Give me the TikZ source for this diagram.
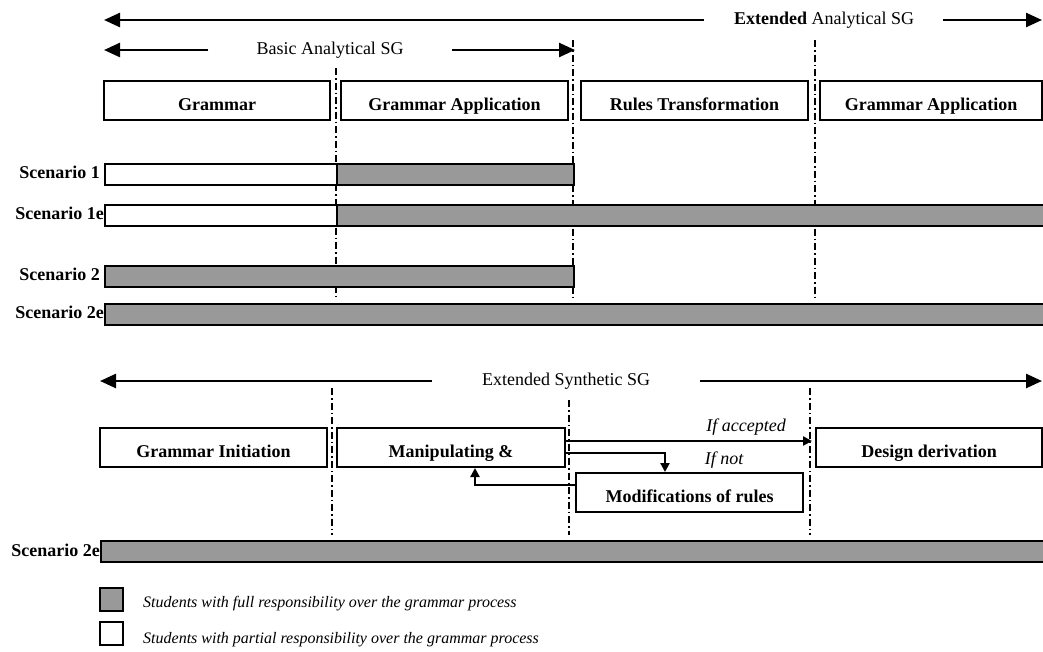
\documentclass[tikz,border=0pt]{standalone}
\usepackage{fontspec}
\setmainfont{Liberation Serif}
\usetikzlibrary{arrows.meta}
\definecolor{barGray}{RGB}{153,153,153}
\begin{document}
\begin{tikzpicture}[x=1pt,y=-1pt,
  lbl/.style={font=\fontsize{18}{20}\selectfont, inner sep=0pt},
  phase/.style={draw, line width=2pt, font=\fontsize{18}{20}\selectfont\bfseries, text height=19pt, text depth=0pt, inner sep=0pt, minimum height=39pt},
  bar/.style={draw, line width=2pt, inner sep=0pt, minimum height=21pt, anchor=north west},
  full/.style={bar, fill=barGray},
  part/.style={bar, fill=white},
  scen/.style={font=\fontsize{18}{20}\selectfont\bfseries, inner sep=0pt, anchor=base east},
  span/.style={line width=2.5pt, -{Triangle[length=16pt,width=14pt]}},
  sep/.style={line width=1.6pt, dash pattern=on 7pt off 3pt on 1.5pt off 3pt},
  flow/.style={line width=2.4pt, -{Triangle[length=9pt,width=9pt]}},
  cond/.style={font=\fontsize{18}{20}\selectfont\itshape, inner sep=0pt},
  legbox/.style={draw, line width=2pt, minimum size=23pt, inner sep=0pt},
  legtxt/.style={font=\fontsize{16}{18}\selectfont\itshape, inner sep=0pt, anchor=west},
]
\useasboundingbox (0,0) rectangle (1043,651);

% ---------- separators (analytical) ----------
\draw[sep] (336,68) -- (336,300);
\draw[sep] (573,40) -- (573,300);
\draw[sep] (815,40) -- (815,300);

% ---------- span arrows (analytical) ----------
\coordinate (eaL) at (104,20);
\coordinate (eaR) at (1042,20);
\node[lbl] (ea) at (824,20) {\textbf{Extended} Analytical SG};
\draw[span] ([xshift=-30pt]ea.west) -- (eaL);
\draw[span] ([xshift=29pt]ea.east) -- (eaR);

\coordinate (baL) at (104,50);
\coordinate (baR) at (575,50);
\node[lbl] (ba) at (330,50) {Basic Analytical SG};
\draw[span] ([xshift=-48pt]ba.west) -- (baL);
\draw[span] ([xshift=48pt]ba.east) -- (baR);

% ---------- phase boxes (analytical) ----------
\node[phase, minimum width=226pt] (gr) at (217,100.5) {Grammar};
\node[phase, minimum width=227pt] (ga1) at (454.5,100.5) {Grammar Application};
\node[phase, minimum width=227pt] (rt) at (694.5,100.5) {Rules Transformation};
\node[phase, minimum width=222pt] (ga2) at (931,100.5) {Grammar Application};

% ---------- scenarios (analytical) ----------
\node[scen] (l1) at (100,178) {Scenario 1};
\node[part, minimum width=232pt] (s1a) at (104,163) {};
\node[full, minimum width=237pt] (s1b) at (336,163) {};

\node[scen] (l1e) at (104,219) {Scenario 1e};
\node[part, minimum width=232pt] (s1ea) at (104,204) {};
\node[full, minimum width=710pt] (s1eb) at (336,204) {};

\node[scen] (l2) at (100,280) {Scenario 2};
\node[full, minimum width=469pt] (s2) at (104,265) {};

\node[scen] (l2e) at (104,318) {Scenario 2e};
\node[full, minimum width=942pt] (s2e) at (104,303) {};

% ---------- separators (synthetic) ----------
\draw[sep] (332,388) -- (332,535);
\draw[sep] (569,400) -- (569,535);
\draw[sep] (810,388) -- (810,535);

% ---------- span arrow (synthetic) ----------
\coordinate (esL) at (100,381);
\coordinate (esR) at (1042,381);
\node[lbl] (es) at (566,381) {Extended Synthetic SG};
\draw[span] ([xshift=-50pt]es.west) -- (esL);
\draw[span] ([xshift=50pt]es.east) -- (esR);

% ---------- phase boxes (synthetic) ----------
\node[phase, minimum width=227pt] (gi) at (213.5,447.5) {Grammar Initiation};
\node[phase, minimum width=228pt] (mn) at (451,447.5) {Manipulating \&};
\node[phase, minimum width=226pt] (dd) at (929,447.5) {Design derivation};
\node[phase, minimum width=227pt] (mod) at (689.5,492.5) {Modifications of rules};

% ---------- flow arrows ----------
\coordinate (acc) at (812,441);
\draw[flow] ([yshift=6.5pt]mn.east) -- (mn.east |- acc) -- (acc);
\node[cond] (ifacc) at (746,427) {If accepted};
\draw[flow] ([yshift=-5.5pt]mn.east) -| ([xshift=-24.5pt]mod.north);
\node[cond] (ifnot) at (724,460) {If not};
\draw[flow] ([yshift=7.5pt]mod.west) -| ([xshift=24pt]mn.south);

% ---------- scenario (synthetic) ----------
\node[scen] (l2s) at (100,556) {Scenario 2e};
\node[full, minimum width=946pt] (s2s) at (100,540) {};

% ---------- legend ----------
\node[legbox, fill=barGray] (kf) at (111.5,599.5) {};
\node[legtxt] (tf) at (143,604) {Students with full responsibility over the grammar process};
\node[legbox, fill=white] (kp) at (111.5,633.5) {};
\node[legtxt] (tp) at (143,640) {Students with partial responsibility over the grammar process};
\end{tikzpicture}
\end{document}
